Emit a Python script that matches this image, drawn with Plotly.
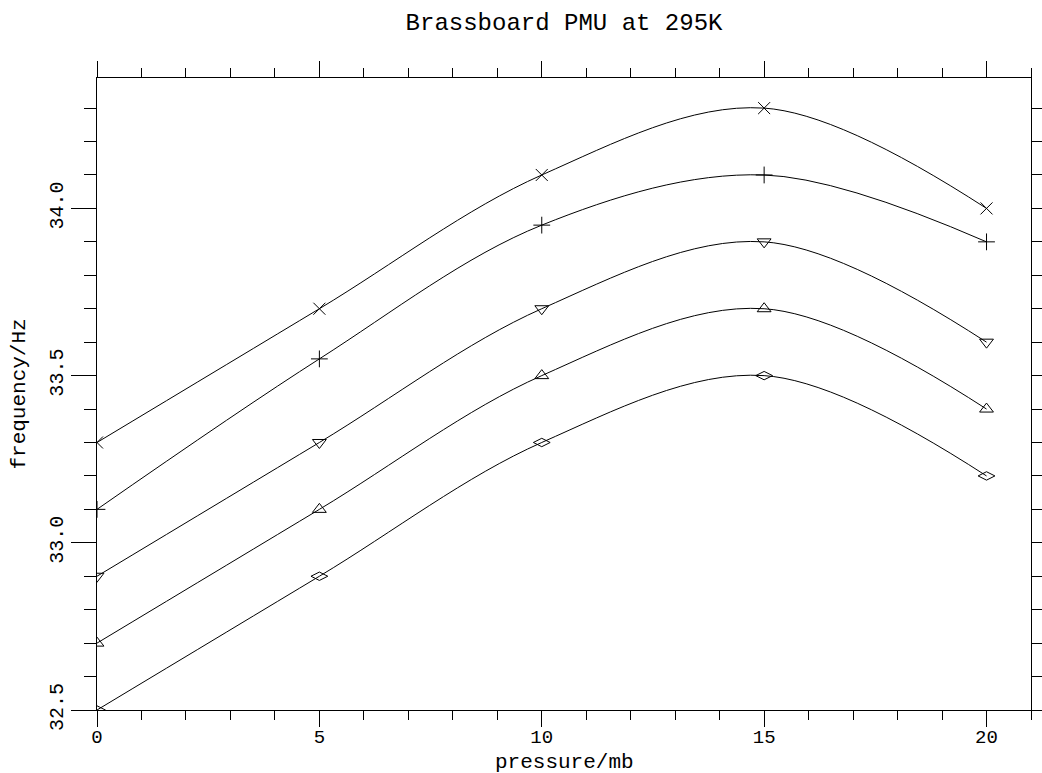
import plotly.graph_objects as go

pressure = [0, 5, 10, 15, 20]
series_x = [33.30, 33.70, 34.10, 34.30, 34.00]
series_plus = [33.10, 33.55, 33.95, 34.10, 33.90]
series_tdown = [32.90, 33.30, 33.70, 33.90, 33.60]
series_tup = [32.70, 33.10, 33.50, 33.70, 33.40]
series_diamond = [32.50, 32.90, 33.30, 33.50, 33.20]

series = [
    (series_x, "x-thin-open"),
    (series_plus, "cross-thin-open"),
    (series_tdown, "triangle-down-open"),
    (series_tup, "triangle-up-open"),
    (series_diamond, "diamond-wide-open"),
]

FONT = "Liberation Mono"

fig = go.Figure()
for ys, sym in series:
    fig.add_trace(go.Scatter(
        x=pressure, y=ys, mode="lines+markers",
        line=dict(color="black", width=1, shape="spline", smoothing=1),
        marker=dict(symbol=sym, size=12, color="black",
                    line=dict(color="black", width=1)),
        showlegend=False, hoverinfo="skip",
    ))

fig.update_layout(
    template="none",
    width=1042, height=773,
    margin=dict(l=97, r=11, t=78, b=63, autoexpand=False),
    paper_bgcolor="white", plot_bgcolor="white",
    font=dict(family=FONT, size=18, color="black"),
    title=dict(text="Brassboard PMU at 295K", x=0.5413, xanchor="center",
               y=0.972, yanchor="middle",
               font=dict(family=FONT, size=24, color="black")),
    annotations=[
        dict(text="pressure/mb", xref="paper", yref="paper", x=0.5, y=-0.083,
             xanchor="center", yanchor="middle", showarrow=False,
             font=dict(family=FONT, size=21, color="black")),
        dict(text="frequency/Hz", xref="paper", yref="paper", x=-0.084, y=0.5,
             xanchor="center", yanchor="middle", showarrow=False, textangle=-90,
             font=dict(family=FONT, size=21, color="black")),
    ],
)

fig.update_xaxes(
    automargin=False,
    range=[0, 21], tickmode="linear", tick0=0, dtick=5,
    ticks="outside", ticklen=16, tickwidth=1, tickcolor="black",
    minor=dict(dtick=1, ticks="outside", ticklen=9, tickwidth=1, tickcolor="black"),
    showline=True, linecolor="black", linewidth=1, mirror="allticks",
    showgrid=False, zeroline=False,
    tickfont=dict(family=FONT, size=19),
    ticklabelstandoff=-7,
)
fig.update_yaxes(
    automargin=False,
    range=[32.5, 34.39], tickmode="linear", tick0=32.5, dtick=0.5,
    tickformat=".1f", tickangle=-90,
    ticks="outside", ticklen=25, tickwidth=1, tickcolor="black",
    minor=dict(dtick=0.1, ticks="outside", ticklen=12, tickwidth=1, tickcolor="black"),
    showline=True, linecolor="black", linewidth=1, mirror="allticks",
    showgrid=False, zeroline=False,
    tickfont=dict(family=FONT, size=20),
)

fig.write_html("out.html")
